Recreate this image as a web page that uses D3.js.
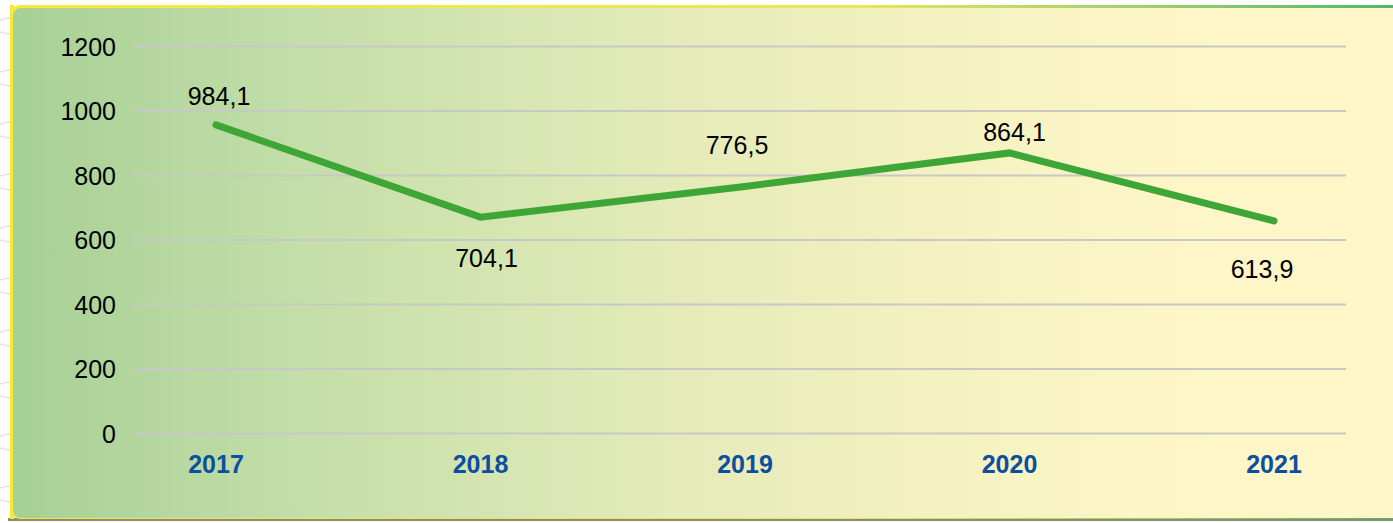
<!DOCTYPE html>
<html>
<head>
<meta charset="utf-8">
<script src="https://cdn.jsdelivr.net/npm/d3@7"></script>
<style>
  html, body { margin: 0; padding: 0; background: #ffffff; }
  svg { display: block; font-family: "Liberation Sans", Arial, sans-serif; }
</style>
</head>
<body>
<svg id="chart" width="1393" height="523"></svg>
<script>
// Data
var years = ["2017", "2018", "2019", "2020", "2021"];
var values = [957, 671, 766, 870, 659];            // where the line is drawn
var labelValues = [984.1, 704.1, 776.5, 864.1, 613.9]; // the printed labels
var yTicks = [0, 200, 400, 600, 800, 1000, 1200];

// label nudges (layout only)
var labelDx = [3, 6, -8, 5, -12];
var labelDy = [-20, 50, -32, -12, 57];

var W = 1393, H = 523;
var svg = d3.select("#chart");
var defs = svg.append("defs");

// background gradient of the card
var bg = defs.append("linearGradient").attr("id", "bg")
    .attr("x1", "0").attr("x2", "1").attr("y1", "0").attr("y2", "0");
[[0, "#a7d095"], [0.2, "#c3dea8"], [0.42, "#dfe9b6"], [0.64, "#f3f1c0"], [0.79, "#fcf5c5"], [1, "#fff7c9"]]
    .forEach(function (s) { bg.append("stop").attr("offset", s[0]).attr("stop-color", s[1]); });

var topGrad = defs.append("linearGradient").attr("id", "topb")
    .attr("x1", "0").attr("x2", "1").attr("y1", "0").attr("y2", "0");
[[0, "#f6e93a"], [0.6, "#e9e65a"], [0.8, "#9fd06a"], [1, "#45b56c"]]
    .forEach(function (s) { topGrad.append("stop").attr("offset", s[0]).attr("stop-color", s[1]); });

// faint decorative rings on the left margin
defs.append("clipPath").attr("id", "leftclip")
    .append("rect").attr("x", 0).attr("y", 0).attr("width", 11).attr("height", H);
var rings = svg.append("g").attr("clip-path", "url(#leftclip)");
d3.range(0, 560, 52).forEach(function (cy) {
    rings.append("circle").attr("cx", 12).attr("cy", cy).attr("r", 34)
        .attr("fill", "none").attr("stroke", "#e4e4e4").attr("stroke-width", 1.5);
});

// card
svg.append("rect").attr("x", 8).attr("y", 518).attr("width", W).attr("height", 3)
    .attr("fill", "#8c8b72");
svg.append("rect").attr("x", 10).attr("y", 5).attr("width", W + 20).attr("height", 514)
    .attr("rx", 10).attr("fill", "url(#topb)");
svg.append("rect").attr("x", 10).attr("y", 5).attr("width", 4).attr("height", 514)
    .attr("fill", "#f6e93a");
svg.append("rect").attr("x", 13).attr("y", 8).attr("width", W + 20).attr("height", 510)
    .attr("rx", 8).attr("fill", "url(#bg)");

// scales
var x = d3.scalePoint().domain(years).range([216, 1274]);
var y = d3.scaleLinear().domain([0, 1200]).range([433.5, 46.5]);
var gridX0 = 133, gridX1 = 1346;

// gridlines
svg.append("g").selectAll("line")
    .data(yTicks).enter().append("line")
    .attr("x1", gridX0).attr("x2", gridX1)
    .attr("y1", function (d) { return y(d); })
    .attr("y2", function (d) { return y(d); })
    .attr("stroke", "#c8c8c8").attr("stroke-width", 2);

// y axis labels
svg.append("g").selectAll("text")
    .data(yTicks).enter().append("text")
    .attr("x", 116)
    .attr("y", function (d) { return y(d) + 9; })
    .attr("text-anchor", "end")
    .attr("font-size", 25).attr("fill", "#000")
    .text(function (d) { return d; });

// x axis labels
svg.append("g").selectAll("text")
    .data(years).enter().append("text")
    .attr("x", function (d) { return x(d); })
    .attr("y", 473)
    .attr("text-anchor", "middle")
    .attr("font-size", 25).attr("font-weight", "bold").attr("fill", "#0c4f9f")
    .text(function (d) { return d; });

// line
var line = d3.line()
    .x(function (d, i) { return x(years[i]); })
    .y(function (d) { return y(d); });

svg.append("path")
    .datum(values)
    .attr("d", line)
    .attr("fill", "none")
    .attr("stroke", "#3da636")
    .attr("stroke-width", 7)
    .attr("stroke-linecap", "round")
    .attr("stroke-linejoin", "miter");

// value labels
var fmt = d3.formatLocale({ decimal: ",", thousands: " ", grouping: [3], currency: ["", ""] }).format(".1f");
svg.append("g").selectAll("text")
    .data(labelValues).enter().append("text")
    .attr("x", function (d, i) { return x(years[i]) + labelDx[i]; })
    .attr("y", function (d, i) { return y(values[i]) + labelDy[i]; })
    .attr("text-anchor", "middle")
    .attr("font-size", 25).attr("fill", "#000")
    .text(function (d) { return fmt(d); });
</script>
</body>
</html>
